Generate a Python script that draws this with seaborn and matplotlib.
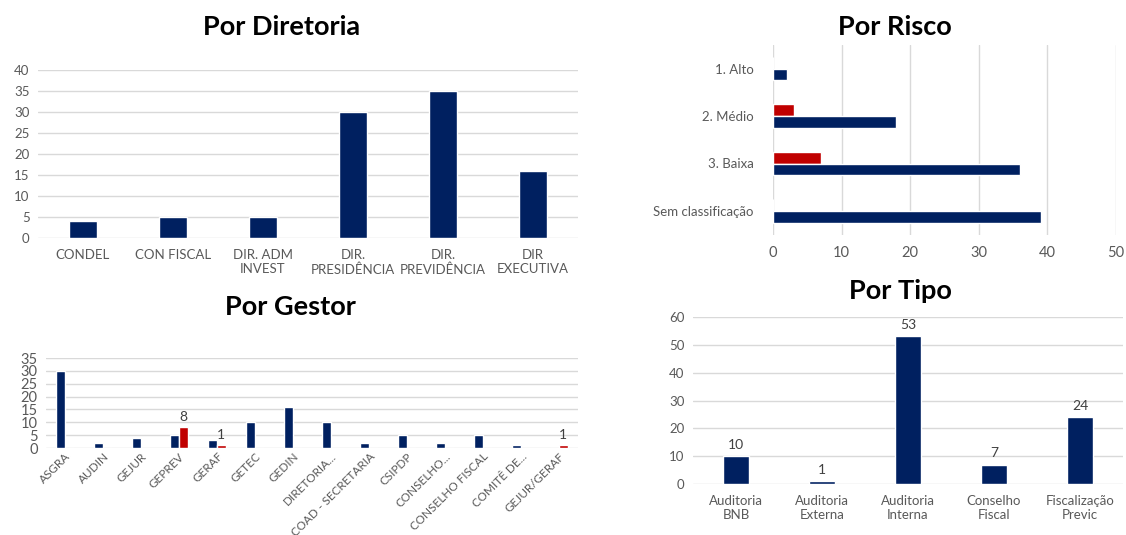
import matplotlib
matplotlib.use("Agg")
import matplotlib.pyplot as plt
import seaborn as sns
import pandas as pd

# ---- data ----
diretoria_cats = ["CONDEL", "CON FISCAL", "DIR. ADM\nINVEST", "DIR.\nPRESIDÊNCIA",
                  "DIR.\nPREVIDÊNCIA", "DIR\nEXECUTIVA"]
diretoria_vals = [4, 5, 5, 30, 35, 16]

risco_cats = ["1. Alto", "2. Médio", "3. Baixa", "Sem classificação"]
risco_serie_1 = [0, 3, 7, 0]
risco_serie_2 = [2, 18, 36, 39]

gestor_cats = ["ASGRA", "AUDIN", "GEJUR", "GEPREV", "GERAF", "GETEC", "GEDIN",
               "DIRETORIA...", "COAD - SECRETARIA", "CSIPDP", "CONSELHO...",
               "CONSELHO FISCAL", "COMITÊ DE...", "GEJUR/GERAF"]
gestor_serie_1 = [30, 2, 4, 5, 3, 10, 16, 10, 2, 5, 2, 5, 1, 0]
gestor_serie_2 = [0, 0, 0, 8, 1, 0, 0, 0, 0, 0, 0, 0, 0, 1]

tipo_cats = ["Auditoria\nBNB", "Auditoria\nExterna", "Auditoria\nInterna",
             "Conselho\nFiscal", "Fiscalização\nPrevic"]
tipo_vals = [10, 1, 53, 7, 24]

# ---- style ----
NAVY = "#002060"
RED = "#C00000"
GRID = "#D9D9D9"
TXT = "#595959"

sns.set_theme(style="white")
plt.rcParams["font.family"] = ["Lato", "DejaVu Sans"]

W, H = 1126, 535
fig = plt.figure(figsize=(W / 100, H / 100), dpi=100)


def px_axes(x0, x1, ytop, ybot):
    return fig.add_axes([x0 / W, (H - ybot) / H, (x1 - x0) / W, (ybot - ytop) / H])


def clean(ax, grid_axis="y", size=9.5):
    for s in ax.spines.values():
        s.set_visible(False)
    ax.set_axisbelow(True)
    ax.grid(True, axis=grid_axis, color=GRID, linewidth=1)
    ax.tick_params(length=0, colors=TXT, labelsize=size)
    ax.set_xlabel("")
    ax.set_ylabel("")


def title(x, y, s):
    fig.text(x / W, 1 - y / H, s, ha="center", va="center",
             fontsize=19.5, fontweight="bold", color="black")


# ---- Por Diretoria ----
ax1 = px_axes(38, 578, 70, 238)
sns.barplot(x=diretoria_cats, y=diretoria_vals, color=NAVY, saturation=1,
            width=0.31, ax=ax1)
ax1.set_ylim(0, 40)
ax1.set_yticks(range(0, 41, 5))
clean(ax1, "y")
ax1.tick_params(axis="x", pad=8)
ax1.tick_params(axis="y", pad=6)
title(282, 27, "Por Diretoria")

# ---- Por Risco ----
ax2 = px_axes(773, 1116, 44.75, 234.75)
risco_df = pd.DataFrame({
    "cat": risco_cats * 2,
    "val": risco_serie_1 + risco_serie_2,
    "serie": ["s1"] * 4 + ["s2"] * 4,
})
sns.barplot(data=risco_df, y="cat", x="val", hue="serie", hue_order=["s1", "s2"],
            palette=[RED, NAVY], saturation=1, width=0.5, orient="h",
            legend=False, ax=ax2)
ax2.set_xlim(0, 50)
ax2.set_xticks(range(0, 51, 10))
clean(ax2, "x")
ax2.tick_params(axis="y", pad=14)
ax2.tick_params(axis="x", pad=8, labelsize=10.5)
title(895, 27, "Por Risco")

# ---- Por Gestor ----
ax3 = px_axes(46, 578, 358, 448)
gestor_df = pd.DataFrame({
    "cat": gestor_cats * 2,
    "val": gestor_serie_1 + gestor_serie_2,
    "serie": ["s1"] * len(gestor_cats) + ["s2"] * len(gestor_cats),
})
sns.barplot(data=gestor_df, x="cat", y="val", hue="serie", hue_order=["s1", "s2"],
            palette=[NAVY, RED], saturation=1, width=0.45, legend=False, ax=ax3)
ax3.set_ylim(0, 35)
ax3.set_yticks(range(0, 36, 5))
clean(ax3, "y")
ax3.tick_params(axis="y", labelsize=10.5, pad=6)
ax3.tick_params(axis="x", pad=2, labelsize=8.5)
for lbl in ax3.get_xticklabels():
    lbl.set_rotation(45)
    lbl.set_ha("right")
    lbl.set_rotation_mode("anchor")
red_bars = ax3.containers[1]
ax3.bar_label(red_bars, labels=[str(v) if v else "" for v in gestor_serie_2],
              padding=3, color="#404040", fontsize=10)
title(290, 307, "Por Gestor")

# ---- Por Tipo ----
ax4 = px_axes(693, 1123, 317, 484)
sns.barplot(x=tipo_cats, y=tipo_vals, color=NAVY, saturation=1, width=0.31, ax=ax4)
ax4.set_ylim(0, 60)
ax4.set_yticks(range(0, 61, 10))
clean(ax4, "y")
ax4.tick_params(axis="x", pad=8)
ax4.tick_params(axis="y", pad=6)
ax4.bar_label(ax4.containers[0], labels=[str(v) for v in tipo_vals],
              padding=4, color="#404040", fontsize=10)
title(900, 291, "Por Tipo")

fig.savefig("out.png", dpi=100, facecolor="white")
